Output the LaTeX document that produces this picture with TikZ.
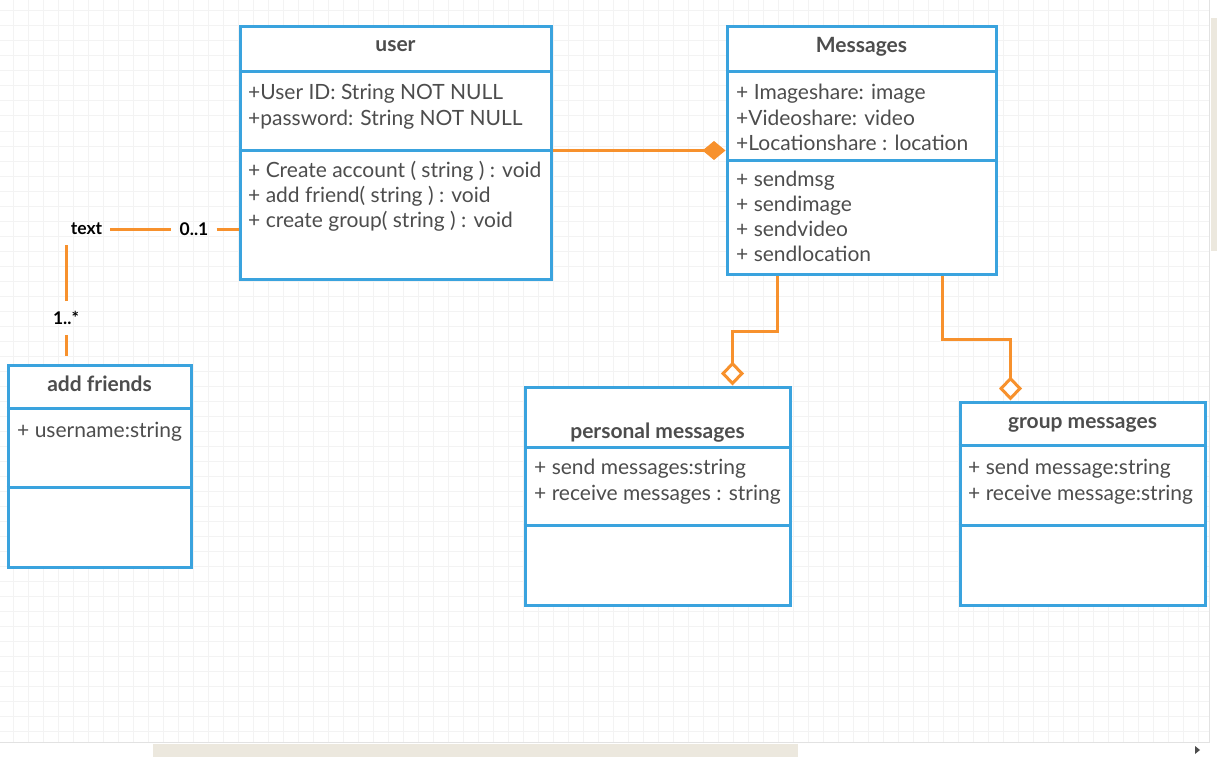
\documentclass[tikz,border=0pt]{standalone}
\usepackage{fontspec}
\setmainfont{Lato}
\usetikzlibrary{arrows.meta}
\definecolor{umlBlue}{RGB}{58,163,222}
\definecolor{umlOrange}{RGB}{247,145,45}
\definecolor{umlText}{RGB}{77,77,77}
\definecolor{gridGray}{RGB}{243,243,243}
\definecolor{barBeige}{RGB}{236,232,222}
\definecolor{barLine}{RGB}{226,226,226}

\begin{document}
\begin{tikzpicture}[x=1pt,y=-1pt,
  classbox/.style={draw=umlBlue, line width=3pt, fill=white, inner sep=0pt},
  divider/.style={umlBlue, line width=3pt},
  classname/.style={anchor=base, inner sep=0pt, text=umlText, font=\fontsize{21}{25}\selectfont\bfseries},
  member/.style={anchor=base west, inner sep=0pt, text=umlText, font=\fontsize{21}{25}\selectfont},
  mult/.style={inner xsep=8pt, inner ysep=10pt, font=\fontsize{17.5}{21}\selectfont\bfseries},
  assoc/.style={umlOrange, line width=3pt},
  compose/.style={assoc, -{Diamond[length=23pt,width=19pt]}},
  aggregate/.style={assoc, -{Diamond[length=24pt,width=23pt,fill=white]}}]
  \useasboundingbox (0,0) rectangle (1217,757);
  % background grid
  \foreach \gx in {13,28,...,1208} \draw[gridGray, line width=1pt] (\gx,0) -- (\gx,742);
  \foreach \gy in {11,26,...,741} \draw[gridGray, line width=1pt] (0,\gy) -- (1209,\gy);
  % scroll bars
  \fill[white] (0,742) rectangle (1217,757);
  \fill[white] (1209,0) rectangle (1217,757);
  \draw[barLine, line width=1pt] (0,742) -- (1209,742) -- (1209,0);
  \fill[barBeige] (153,744) rectangle (798,757);
  \fill[barBeige] (1211,18) rectangle (1217,251);
  \fill[umlText] (1195,746) -- (1200,750) -- (1195,754) -- cycle;

  % classes
  \node[classbox, minimum width=311pt, minimum height=252pt] (User) at (395.5,153) {};
  \draw[divider] ([yshift=-46pt]User.north west) -- ([yshift=-46pt]User.north east);
  \draw[divider] ([yshift=-125pt]User.north west) -- ([yshift=-125pt]User.north east);
  \node[classname] (UserName) at (395.5,52) {user};
  \node[member] (UserAttrA) at (248,100) {+User ID: String NOT NULL};
  \node[member] (UserAttrB) at (248,125) {+password: String NOT NULL};
  \node[member] (UserOpA) at (248,177) {+ Create account ( string ) : void};
  \node[member] (UserOpB) at (248,202) {+ add friend( string ) : void};
  \node[member] (UserOpC) at (248,227) {+ create group( string ) : void};

  \node[classbox, minimum width=269pt, minimum height=247pt] (Messages) at (861.5,150.5) {};
  \draw[divider] ([yshift=-46pt]Messages.north west) -- ([yshift=-46pt]Messages.north east);
  \draw[divider] ([yshift=-135pt]Messages.north west) -- ([yshift=-135pt]Messages.north east);
  \node[classname] (MsgName) at (861.5,53) {Messages};
  \node[member] (MsgAttrA) at (736,100) {+ Imageshare: image};
  \node[member] (MsgAttrB) at (736,125) {+Videoshare: video};
  \node[member] (MsgAttrC) at (736,150) {+Locationshare : location};
  \node[member] (MsgOpA) at (736,186) {+ sendmsg};
  \node[member] (MsgOpB) at (736,211) {+ sendimage};
  \node[member] (MsgOpC) at (736,236) {+ sendvideo};
  \node[member] (MsgOpD) at (736,261) {+ sendlocation};

  \node[classbox, minimum width=183pt, minimum height=202pt] (AddFriends) at (99.5,466) {};
  \draw[divider] ([yshift=-45pt]AddFriends.north west) -- ([yshift=-45pt]AddFriends.north east);
  \draw[divider] ([yshift=-124pt]AddFriends.north west) -- ([yshift=-124pt]AddFriends.north east);
  \node[classname] (FriendName) at (99.5,391) {add friends};
  \node[member] (FriendAttr) at (17,437) {+ username:string};

  \node[classbox, minimum width=265pt, minimum height=218pt] (Personal) at (657.5,496) {};
  \draw[divider] ([yshift=-62pt]Personal.north west) -- ([yshift=-62pt]Personal.north east);
  \draw[divider] ([yshift=-140pt]Personal.north west) -- ([yshift=-140pt]Personal.north east);
  \node[classname] (PersonalName) at (657.5,438) {personal messages};
  \node[member] (PersonalAttrA) at (534,474) {+ send messages:string};
  \node[member] (PersonalAttrB) at (534,500) {+ receive messages : string};

  \node[classbox, minimum width=245pt, minimum height=203pt] (Group) at (1082.5,503.5) {};
  \draw[divider] ([yshift=-45pt]Group.north west) -- ([yshift=-45pt]Group.north east);
  \draw[divider] ([yshift=-125pt]Group.north west) -- ([yshift=-125pt]Group.north east);
  \node[classname] (GroupName) at (1082.5,428) {group messages};
  \node[member] (GroupAttrA) at (968,474) {+ send message:string};
  \node[member] (GroupAttrB) at (968,500) {+ receive message:string};

  % associations
  \node[mult] (TextLbl) at (86.5,229) {text};
  \node[mult] (ZeroOne) at (194,229) {0..1};
  \node[mult] (OneMany) at (66,318) {1..*};
  \draw[assoc] (TextLbl) -- (ZeroOne);
  \draw[assoc] (ZeroOne) -- (User.west |- ZeroOne);
  \draw[assoc] (OneMany) -- (OneMany |- TextLbl.south);
  \draw[assoc, shorten >=8pt] (OneMany) -- (OneMany |- AddFriends.north);
  \draw[compose] ([yshift=-125pt]User.north east) -- ([yshift=-125pt]Messages.north west);
  \draw[aggregate] ([xshift=52pt]Messages.south west) -- ++(0,56) -| ([xshift=209pt]Personal.north west);
  \draw[aggregate] ([xshift=217pt]Messages.south west) -- ++(0,64) -| ([xshift=52pt]Group.north west);
\end{tikzpicture}
\end{document}
